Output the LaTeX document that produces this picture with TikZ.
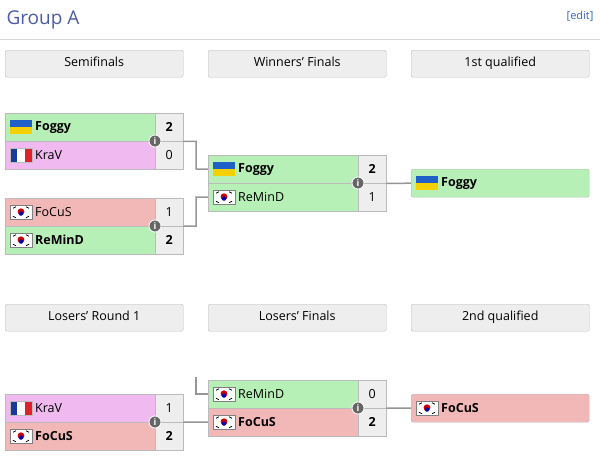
\documentclass[tikz,border=0pt]{standalone}
\usepackage{fontspec}
\setmainfont{Open Sans}
\definecolor{win}{HTML}{B6F0B6}
\definecolor{los}{HTML}{F2B8B8}
\definecolor{vio}{HTML}{F0BAF0}
\definecolor{sc}{HTML}{EEEEEE}
\definecolor{bd}{HTML}{BBBBBB}
\definecolor{ttl}{HTML}{4A5BA8}
\definecolor{lnk}{HTML}{3366BB}
\definecolor{ic}{HTML}{666666}
\definecolor{ua1}{HTML}{1F5FC8}
\definecolor{ua2}{HTML}{F5D000}
\definecolor{fr1}{HTML}{1A3A9A}
\definecolor{fr2}{HTML}{E0202A}
\begin{document}
\begin{tikzpicture}[x=1pt,y=-1pt,font=\fontsize{12.5}{14}\selectfont,
 hdr/.style={draw=bd,fill=sc,rounded corners=1.5pt,minimum width=178pt,minimum height=27pt,inner sep=0pt,anchor=north west,text height=9pt,text depth=2.5pt},
 nm/.style={draw=bd,minimum width=150pt,minimum height=28pt,inner ysep=0pt,inner xsep=14pt,anchor=north west,text width=122pt,align=left},
 qb/.style={draw=bd,rounded corners=1.5pt,minimum width=178pt,minimum height=28pt,inner ysep=0pt,inner xsep=14pt,anchor=north west,text width=150pt,align=left},
 scr/.style={draw=bd,fill=sc,minimum width=28pt,minimum height=28pt,inner sep=0pt,anchor=north west},
 con/.style={draw=bd!80!black,line width=1.5pt},
 info/.style={circle,fill=ic,draw=white,line width=0.8pt,minimum size=12pt,inner sep=0pt,text=white,font=\bfseries\fontsize{9}{9}\selectfont}]
\useasboundingbox (0,0) rectangle (600,466);
\newcommand\ua[1]{\begin{scope}[shift={(#1)}]\fill[ua1] (5,-7) rectangle (27,0);\fill[ua2] (5,0) rectangle (27,7);\end{scope}}
\newcommand\fr[1]{\begin{scope}[shift={(#1)}]\fill[fr1] (5,-7) rectangle (12.3,7);\fill[white] (12.3,-7) rectangle (19.7,7);\fill[fr2] (19.7,-7) rectangle (27,7);\draw[bd,line width=.4pt] (5,-7) rectangle (27,7);\end{scope}}
\newcommand\kr[1]{\begin{scope}[shift={(#1)}]\fill[white,draw=gray,line width=.4pt] (5,-7) rectangle (27,7);\fill[red!80!black] (16,-0.5) circle (3.4);\fill[blue!70!black] (16,1.4) circle (2.2);\draw[black,line width=.8pt] (8,-4)--(11,-5.5) (24,-4)--(21,-5.5) (8,4)--(11,5.5) (24,4)--(21,5.5);\end{scope}}
\node[anchor=west,text=ttl,font=\fontsize{19}{22}\selectfont] (title) at (3,20) {Group A};
\node[anchor=east,text=lnk,font=\fontsize{11}{13}\selectfont] (edit) at (597,16) {[edit]};
\draw[bd!60] (0,39) -- (600,39);
\node[hdr] (h1) at (5,50) {Semifinals};
\node[hdr] (h2) at (208,50) {Winners' Finals};
\node[hdr] (h3) at (411,50) {1st qualified};
\node[hdr] (h4) at (5,304) {Losers' Round 1};
\node[hdr] (h5) at (208,304) {Losers' Finals};
\node[hdr] (h6) at (411,304) {2nd qualified};
% semifinal 1
\node[nm,fill=win] (a1) at (5,113) {\hspace*{16pt}\textbf{Foggy}};
\node[scr] (a1s) at (155,113) {\textbf{2}};
\node[nm,fill=vio] (a2) at (5,141) {\hspace*{16pt}KraV};
\node[scr] (a2s) at (155,141) {0};
\ua{a1.west}\fr{a2.west}
% semifinal 2
\node[nm,fill=los] (b1) at (5,198) {\hspace*{16pt}FoCuS};
\node[scr] (b1s) at (155,198) {1};
\node[nm,fill=win] (b2) at (5,226) {\hspace*{16pt}\textbf{ReMinD}};
\node[scr] (b2s) at (155,226) {\textbf{2}};
\kr{b1.west}\kr{b2.west}
% winners final
\node[nm,fill=win] (c1) at (208,155) {\hspace*{16pt}\textbf{Foggy}};
\node[scr] (c1s) at (358,155) {\textbf{2}};
\node[nm,fill=win] (c2) at (208,183) {\hspace*{16pt}ReMinD};
\node[scr] (c2s) at (358,183) {1};
\ua{c1.west}\kr{c2.west}
\node[qb,fill=win] (q1) at (411,169) {\hspace*{16pt}\textbf{Foggy}};
\ua{q1.west}
% losers round 1
\node[nm,fill=vio] (d1) at (5,394) {\hspace*{16pt}KraV};
\node[scr] (d1s) at (155,394) {1};
\node[nm,fill=los] (d2) at (5,422) {\hspace*{16pt}\textbf{FoCuS}};
\node[scr] (d2s) at (155,422) {\textbf{2}};
\fr{d1.west}\kr{d2.west}
% losers final
\node[nm,fill=win] (e1) at (208,380) {\hspace*{16pt}ReMinD};
\node[scr] (e1s) at (358,380) {0};
\node[nm,fill=los] (e2) at (208,408) {\hspace*{16pt}\textbf{FoCuS}};
\node[scr] (e2s) at (358,408) {\textbf{2}};
\kr{e1.west}\kr{e2.west}
\node[qb,fill=los] (q2) at (411,394) {\hspace*{16pt}\textbf{FoCuS}};
\kr{q2.west}
\coordinate (drop) at (196,377);
% connectors
\draw[con] (a1s.south east) -| (196,169) -- (c1.west);
\draw[con] (b2s.north east) -| (196,197) -- (c2.west);
\draw[con] (c1s.south east) -- (q1.west);
\draw[con] (drop) |- (e1.west);
\draw[con] (d2s.north east) -- (e2.west);
\draw[con] (e2s.north east) -- (q2.west);
\foreach \n in {a2s,b2s,d2s,c2s,e2s} \node[info] at (\n.north west) {i};
\end{tikzpicture}
\end{document}
